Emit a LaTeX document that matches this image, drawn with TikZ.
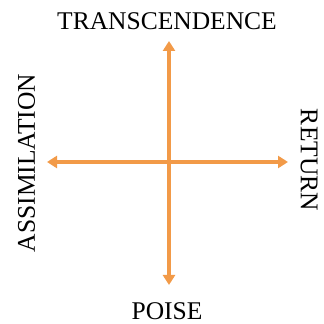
\documentclass[tikz,border=0pt]{standalone}
\usepackage{fontspec}
\setmainfont{Liberation Serif}
\usetikzlibrary{arrows.meta, positioning}
\definecolor{axisorange}{RGB}{242,154,72}

\begin{document}
\begin{tikzpicture}[
  x=1pt, y=1pt,
  axis/.style={{Triangle[length=10pt, width=12pt]}-{Triangle[length=10pt, width=12pt]},
               line width=3.4pt, draw=axisorange},
  pole/.style={inner sep=0pt, font=\fontsize{25.5}{30}\selectfont}
]
\useasboundingbox (0,0) rectangle (324,324);

% axis ends
\coordinate (mid) at (169,162);
\coordinate (west) at (47,162);
\coordinate (east) at (288,162);
\coordinate (north) at (169,283);
\coordinate (south) at (169,39);

\node[pole] (trans) at (167,303) {TRANSCENDENCE};
\node[pole] (poise) at (167,12.5) {POISE};
\node[pole, rotate=90] (assim) at (26.5,161) {ASSIMILATION};
\node[pole, rotate=-90] (ret) at (309,164) {RETURN};

\draw[axis] (west) -- (east);
\draw[axis] (south) -- (north);

\end{tikzpicture}
\end{document}
